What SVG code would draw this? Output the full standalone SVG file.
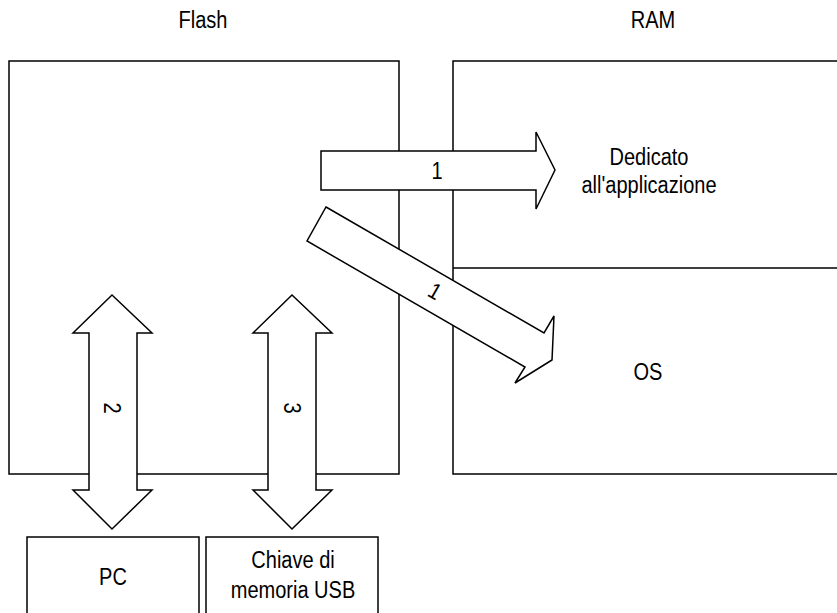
<svg xmlns="http://www.w3.org/2000/svg" width="837" height="613" viewBox="0 0 837 613">
<style>
.box{fill:#fff;stroke:#000;stroke-width:1.5}
.arr{fill:#fff;stroke:#000;stroke-width:1.5;stroke-linejoin:miter}
.t{font-family:"Liberation Sans",Arial,sans-serif;font-size:23px;fill:#000;text-anchor:middle}
</style>
<rect width="837" height="613" fill="#fff"/>
<g id="flash">
<rect class="box" x="9" y="61" width="390" height="413"/>
<text class="t" transform="translate(203 28) scale(0.87 1)">Flash</text>
</g>
<g id="ram">
<path class="box" d="M840 61 H453 V474 H840 M453 268 H840"/>
<text class="t" transform="translate(653 28) scale(0.87 1)">RAM</text>
</g>
<g id="ram-app">
<text class="t" transform="translate(649 165) scale(0.87 1)">Dedicato</text>
<text class="t" transform="translate(649 193) scale(0.87 1)">all'applicazione</text>
</g>
<g id="ram-os">
<text class="t" transform="translate(648 380) scale(0.87 1)">OS</text>
</g>
<g id="pc">
<rect class="box" x="27" y="537" width="172" height="90"/>
<text class="t" transform="translate(113 585) scale(0.87 1)">PC</text>
</g>
<g id="usb">
<rect class="box" x="206" y="537" width="172" height="90"/>
<text class="t" transform="translate(293 568) scale(0.87 1)">Chiave di</text>
<text class="t" transform="translate(293 598) scale(0.87 1)">memoria USB</text>
</g>
<g id="connectors">
<path class="arr" d="M321 151 H536 V132 L555 170 L536 209 V190 H321 Z"/>
<text class="t" transform="translate(437 179) scale(0.87 1)">1</text>
<path class="arr" d="M326 207 L544 333 L554 316 L552 360 L515 383 L525 367 L307 241 Z"/>
<text class="t" transform="translate(435 291) rotate(30) translate(0 8) scale(0.87 1)">1</text>
<path class="arr" d="M112 295 L152 333 H137 V490 H152 L112 529 L73 490 H89 V333 H73 Z"/>
<text class="t" transform="translate(112 408) rotate(90) translate(0 8) scale(0.87 1)">2</text>
<path class="arr" d="M292 295 L332 333 H316 V490 H332 L292 529 L253 490 H268 V333 H253 Z"/>
<text class="t" transform="translate(292 408) rotate(90) translate(0 8) scale(0.87 1)">3</text>
</g>
</svg>
